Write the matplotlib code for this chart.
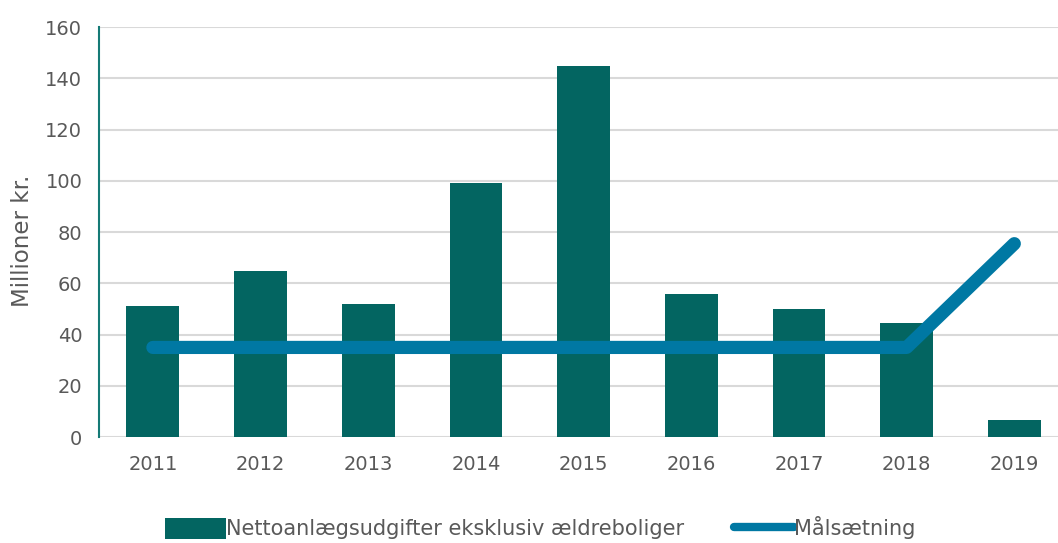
import numpy as np
import matplotlib.pyplot as plt
from matplotlib.patches import Patch
from matplotlib.lines import Line2D

# data
years = ["2011", "2012", "2013", "2014", "2015", "2016", "2017", "2018", "2019"]
udgifter = [51, 65, 52, 99, 145, 56, 50, 44.5, 6.6]
maal = [35, 35, 35, 35, 35, 35, 35, 35, 75.5]

BAR_C = "#036561"
LINE_C = "#0078a3"
TXT_C = "#595959"

plt.rcParams["font.family"] = ["DejaVu Sans"]

fig = plt.figure(figsize=(10.58, 5.43), dpi=100)
ax = fig.add_axes([0.0936, 0.195, 0.916, 0.755])

x = np.arange(len(years))
ax.bar(x, udgifter, width=0.49, color=BAR_C, zorder=2)
ax.plot(x, maal, color=LINE_C, lw=9.5, solid_capstyle="round",
        solid_joinstyle="round", zorder=3)

ax.set_ylim(0, 160)
ax.set_xlim(-0.5, len(years) - 0.5)
ax.set_yticks(np.arange(0, 161, 20))
ax.set_xticks(x)
ax.set_xticklabels(years)
ax.grid(axis="y", color="#d9d9d9", lw=1.5, zorder=0)
ax.set_axisbelow(True)
for s in ["top", "right", "bottom"]:
    ax.spines[s].set_visible(False)
ax.spines["left"].set_color("#157a76")
ax.spines["left"].set_linewidth(1.5)
ax.tick_params(axis="both", length=0, labelsize=14, colors=TXT_C, pad=12)
ax.tick_params(axis="x", pad=13)
ax.set_ylabel("Millioner kr.", fontsize=16.5, color=TXT_C)
ax.yaxis.set_label_coords(-0.067, 0.48)

handles = [
    Patch(facecolor=BAR_C, label="Nettoanlægsudgifter eksklusiv ældreboliger"),
    Line2D([0], [0], color=LINE_C, lw=6, solid_capstyle="round", label="Målsætning"),
]
fig.legend(handles=handles, loc="lower center", bbox_to_anchor=(0.511, -0.028), ncol=2,
           frameon=False, fontsize=15, labelcolor=TXT_C, handlelength=2.9,
           handleheight=1.2, handletextpad=0.0, columnspacing=2.4)

fig.savefig("out.png", dpi=100)
